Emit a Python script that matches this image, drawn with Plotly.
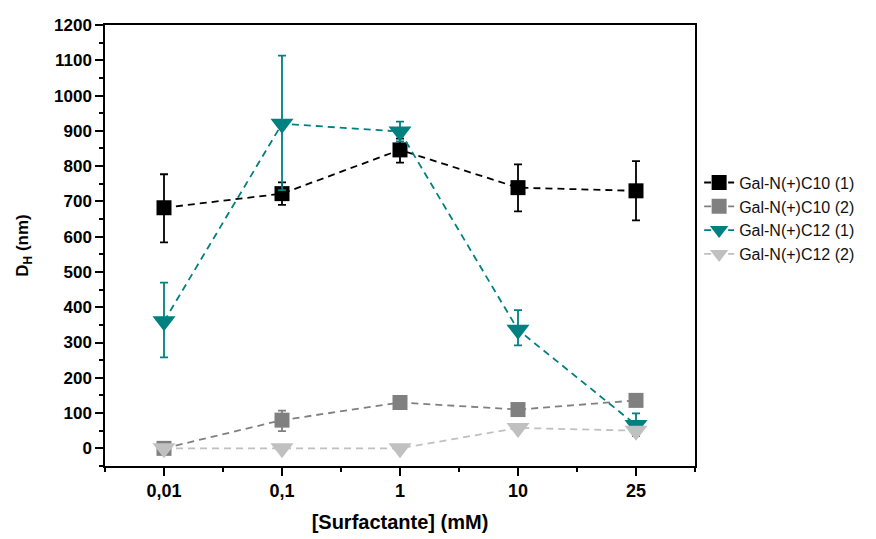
import plotly.graph_objects as go

categories = ["0,01", "0,1", "1", "10", "25"]
x_idx = list(range(len(categories)))

c10_1 = [682, 722, 846, 739, 730]
c10_1_err_plus = [95, 32, 32, 66, 84]
c10_1_err_minus = [98, 32, 36, 67, 84]

c10_2 = [0, 80, 130, 110, 136]
c10_2_err_plus = [5, 27, 8, 8, 6]
c10_2_err_minus = [5, 31, 8, 8, 6]

c12_1 = [360, 920, 898, 336, 66]
c12_1_err_plus = [110, 193, 28, 56, 33]
c12_1_err_minus = [102, 188, 28, 44, 31]

c12_2 = [0, 0, 0, 58, 50]

series = [
    ("Gal-N(+)C10 (1)", c10_1, c10_1_err_plus, c10_1_err_minus, "#000000", "square", 15),
    ("Gal-N(+)C10 (2)", c10_2, c10_2_err_plus, c10_2_err_minus, "#808080", "square", 15),
    ("Gal-N(+)C12 (1)", c12_1, c12_1_err_plus, c12_1_err_minus, "#008080", "triangle-down", 20),
    ("Gal-N(+)C12 (2)", c12_2, None, None, "#C0C0C0", "triangle-down", 20),
]

FONT = "Liberation Sans, Arial, sans-serif"

fig = go.Figure()
for name, y, ep, em, color, sym, size in series:
    err = None
    if ep is not None:
        err = dict(type="data", symmetric=False, array=ep, arrayminus=em,
                   color=color, thickness=1.8, width=4)
    fig.add_trace(go.Scatter(
        x=x_idx, y=y, name=name, mode="lines+markers",
        line=dict(color=color, width=1.8, dash="7px,5px"),
        marker=dict(symbol=sym, size=size, color=color, line=dict(width=0)),
        error_y=err,
    ))

fig.update_layout(
    width=876, height=539,
    margin=dict(l=105, r=181, t=25, b=73),
    plot_bgcolor="white", paper_bgcolor="white",
    showlegend=True,
    legend=dict(x=1.007, y=0.561, xanchor="left", yanchor="middle",
                font=dict(family=FONT, size=16, color="#111"),
                bgcolor="rgba(0,0,0,0)", tracegroupgap=0, itemwidth=30),
    font=dict(family=FONT),
)

fig.update_xaxes(
    automargin=False,
    range=[-0.5, 4.5], tickmode="array", tickvals=x_idx, ticktext=categories,
    tickfont=dict(family=FONT, size=18, color="black", weight="bold"),
    showline=True, linecolor="black", linewidth=1.5, mirror=True,
    ticks="outside", ticklen=8, tickwidth=1.5, tickcolor="black",
    minor=dict(tick0=-0.5, dtick=0.5, ticks="outside", ticklen=4, tickwidth=1.5, tickcolor="black"),
    showgrid=False, zeroline=False,
    title=dict(text="<b>[Surfactante] (mM)</b>",
               font=dict(family=FONT, size=20, color="black"), standoff=15),
)
fig.update_yaxes(
    automargin=False,
    range=[-50, 1200], tickmode="linear", tick0=0, dtick=100,
    tickfont=dict(family=FONT, size=17, color="black", weight="bold"),
    showline=True, linecolor="black", linewidth=1.5, mirror=True,
    ticks="outside", ticklen=8, tickwidth=1.5, tickcolor="black",
    minor=dict(tick0=-50, dtick=50, ticks="outside", ticklen=4, tickwidth=1.5, tickcolor="black"),
    showgrid=False, zeroline=False,
    title=dict(text="<b>D<sub>H</sub> (nm)</b>",
               font=dict(family=FONT, size=17, color="black"), standoff=21),
)

fig.write_html("out.html", post_script="document.body.style.margin='0';",
               config={"displayModeBar": False})
